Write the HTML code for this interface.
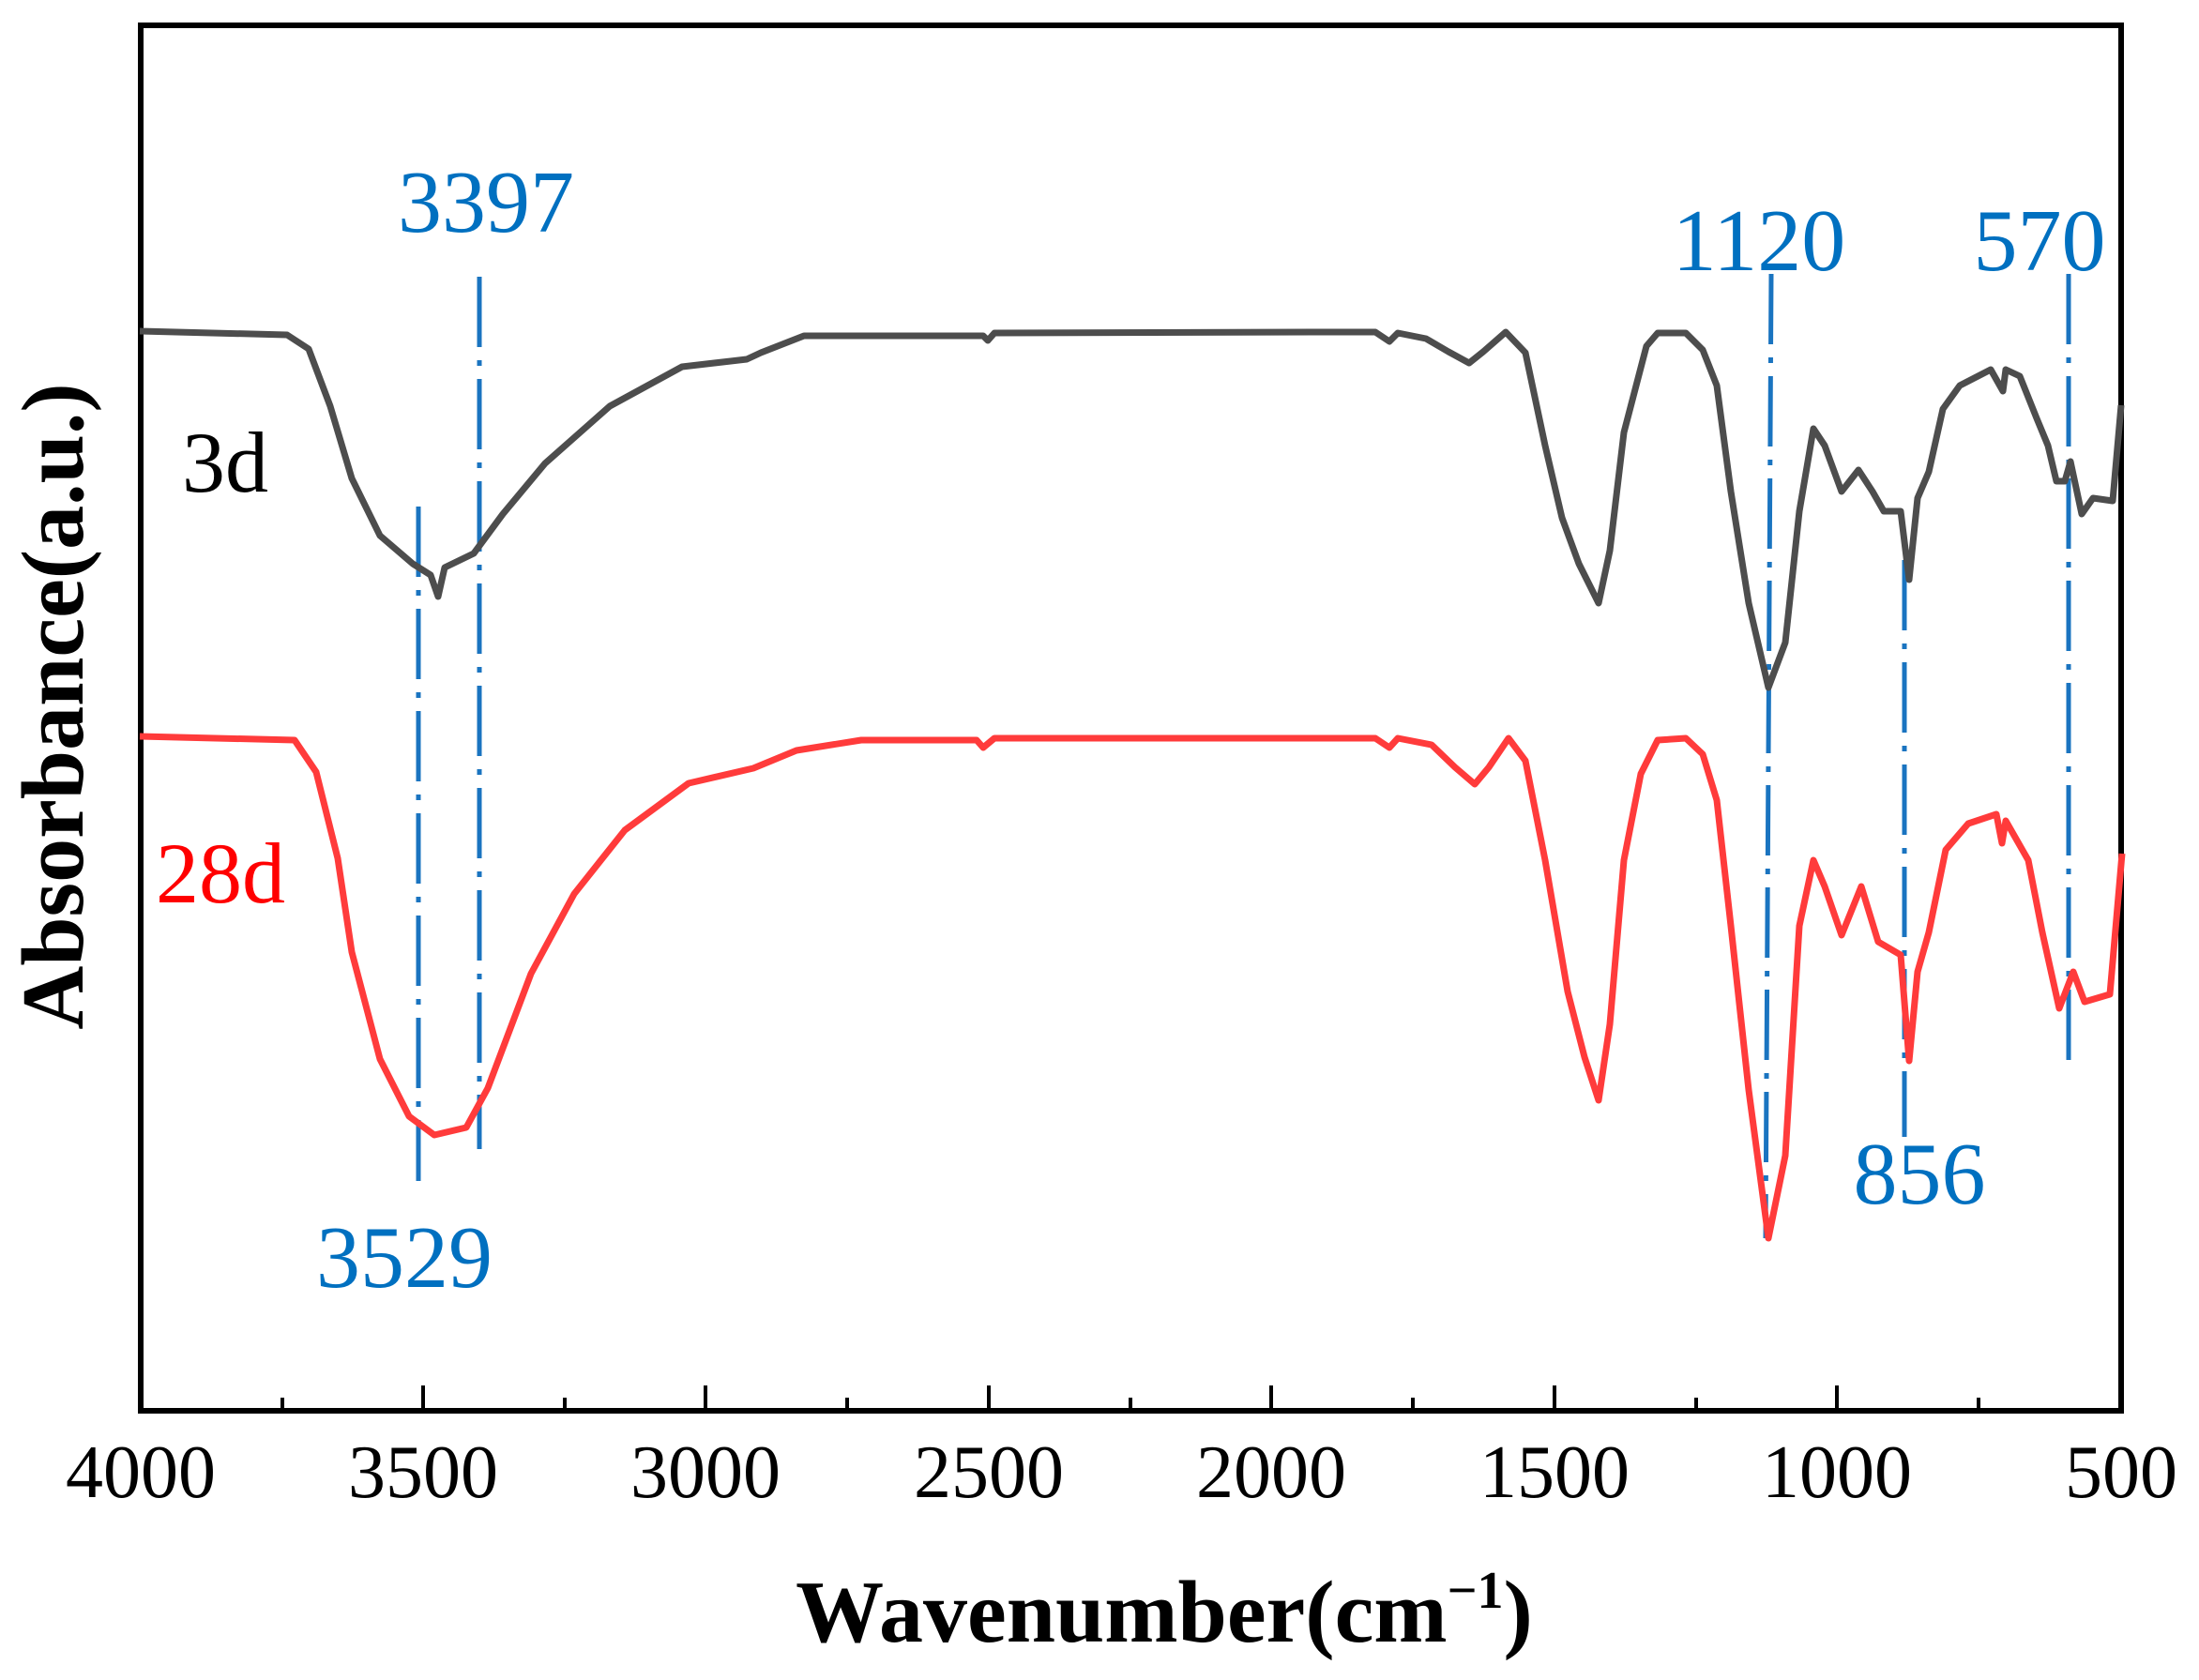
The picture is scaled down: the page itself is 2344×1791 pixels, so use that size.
<!DOCTYPE html>
<html><head><meta charset="utf-8"><style>html,body{margin:0;padding:0;background:#fff}svg{display:block}</style></head>
<body>
<svg width="2344" height="1791" viewBox="0 0 2344 1791" xmlns="http://www.w3.org/2000/svg" font-family="Liberation Serif, serif">
<rect width="2344" height="1791" fill="#fff"/>
<rect x="150" y="27" width="2111" height="1477" fill="none" stroke="#000" stroke-width="6"/>
<g stroke="#000" stroke-width="4">
<path d="M150 1504V1477M451 1504V1477M752 1504V1477M1054 1504V1477M1355 1504V1477M1657 1504V1477M1958 1504V1477"/>
<path d="M301 1504V1490M602 1504V1490M903 1504V1490M1205 1504V1490M1506 1504V1490M1808 1504V1490M2109 1504V1490"/>
</g>
<g font-size="80" text-anchor="middle" fill="#000">
<text x="150" y="1596">4000</text><text x="451" y="1596">3500</text><text x="752" y="1596">3000</text><text x="1054" y="1596">2500</text><text x="1355" y="1596">2000</text><text x="1657" y="1596">1500</text><text x="1958" y="1596">1000</text><text x="2261" y="1596">500</text>
</g>
<text x="1241" y="1750" font-size="94" font-weight="bold" text-anchor="middle">Wavenumber(cm<tspan font-size="56" dy="-36">−1</tspan><tspan dy="36">)</tspan></text>
<text transform="translate(88,753) rotate(-90)" font-size="94" font-weight="bold" text-anchor="middle">Absorbance(a.u.)</text>
<g stroke="#1a74c0" stroke-width="5" stroke-dasharray="75,14,6,14" fill="none">
<path d="M511 295V1225"/>
<path d="M446 540V1259"/>
<path d="M1888 292L1882 1320"/>
<path d="M2030 597V1212"/>
<path d="M2205 292V1140"/>
</g>
<polyline fill="none" stroke="#4d4d4d" stroke-width="7" stroke-linejoin="round" points="149,353 306,357 329,372 352,433 375,510 405,571 440,601 459,613 467,636 474,605 505,590 536,548 581,494 650,433 727,391 796,383 811,376 857,358 1048,358 1053,363 1060,355 1400,354 1466,354 1481,364 1490,355 1520,361 1544,375 1566,387 1581,375 1605,354 1626,376 1647,475 1665,552 1683,601 1704,643 1716,587 1731,461 1755,369 1767,355 1797,355 1815,373 1830,411 1845,524 1864,643 1885,733 1903,685 1918,545 1933,457 1945,475 1963,524 1981,501 1996,524 2008,545 2026,545 2035,618 2044,531 2056,503 2071,436 2089,411 2122,394 2135,417 2138,394 2153,401 2171,446 2183,475 2192,513 2201,513 2207,492 2219,548 2231,531 2252,534 2261,432"/>
<polyline fill="none" stroke="#ff3b3b" stroke-width="7" stroke-linejoin="round" points="149,785 314,789 337,823 360,915 375,1015 405,1129 436,1190 463,1210 497,1202 520,1160 566,1038 612,953 666,885 734,835 803,819 849,800 918,789 1041,789 1048,797 1060,787 1400,787 1466,787 1481,797 1490,787 1526,794 1551,818 1572,836 1587,818 1608,787 1626,811 1647,917 1671,1057 1689,1127 1704,1173 1716,1092 1731,917 1749,825 1767,789 1797,787 1815,804 1830,853 1845,987 1864,1162 1885,1320 1903,1232 1918,987 1933,917 1945,945 1963,997 1984,945 2002,1004 2026,1018 2035,1131 2044,1036 2056,994 2074,906 2098,878 2128,868 2134,899 2138,875 2162,917 2177,994 2195,1075 2210,1036 2222,1068 2249,1060 2262,910"/>
<g font-size="92">
<text x="194" y="524" fill="#000">3d</text>
<text x="166" y="962" fill="#ff0000">28d</text>
</g>
<g font-size="94" fill="#0070c0" text-anchor="middle">
<text x="518" y="247">3397</text>
<text x="1875" y="288">1120</text>
<text x="2174" y="288">570</text>
<text x="431" y="1372">3529</text>
<text x="2046" y="1283">856</text>
</g>
</svg>
</body></html>
